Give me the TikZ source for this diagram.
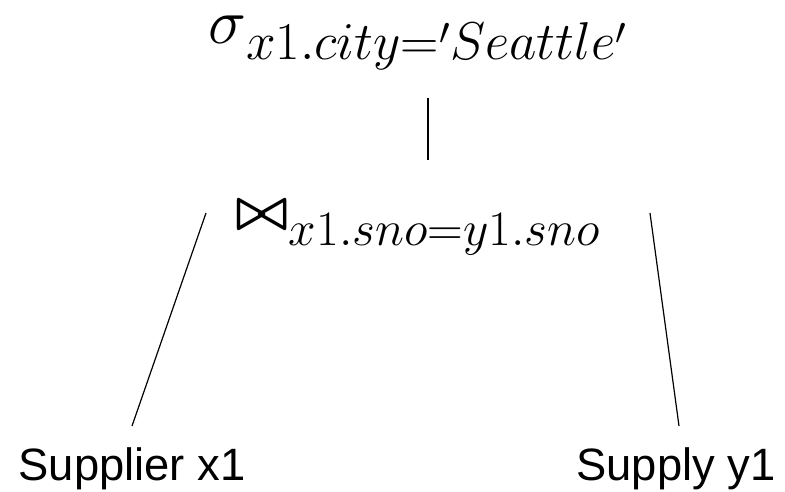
\RequirePackage{fix-cm}
\documentclass[tikz,border=0pt]{standalone}
\usepackage{fontspec}
\newfontfamily\leaffont{Liberation Sans}

\begin{document}
\begin{tikzpicture}[x=0.75pt,y=-0.75pt,
    op/.style={inner sep=0pt, anchor=base west},
    leaf/.style={font=\leaffont\fontsize{34}{40}\selectfont, inner sep=0pt, anchor=base},
    edge/.style={line width=0.9pt}]
  \useasboundingbox (0,0) rectangle (785,492);
  % operators
  \node[op, font=\fontsize{57}{60}\selectfont] (sel) at (208,48)
    {$\mbox{\raisebox{3pt}{\fontsize{48}{48}\selectfont$\sigma$}}_{x1.city='Seattle'}$};
  \node[op, font=\fontsize{53}{57}\selectfont] (join) at (235,235)
    {$\mbox{\raisebox{5pt}{\fontsize{42}{42}\selectfont\boldmath$\bowtie$}}_{x1.sno=y1.sno}$};
  % relations
  \node[leaf] (sup) at (132,480) {Supplier x1};
  \node[leaf] (spy) at (676,480) {Supply y1};
  % edges
  \draw[edge] ([xshift=165pt,yshift=-37.5pt]sel.base west) -- ([xshift=144.75pt,yshift=56.25pt]join.base west);
  \draw[edge] ([xshift=-21.75pt,yshift=16.5pt]join.base west) -- ([yshift=40.5pt]sup.base);
  \draw[edge] ([xshift=311.25pt,yshift=16.5pt]join.base west) -- ([xshift=2.25pt,yshift=40.5pt]spy.base);
\end{tikzpicture}
\end{document}
